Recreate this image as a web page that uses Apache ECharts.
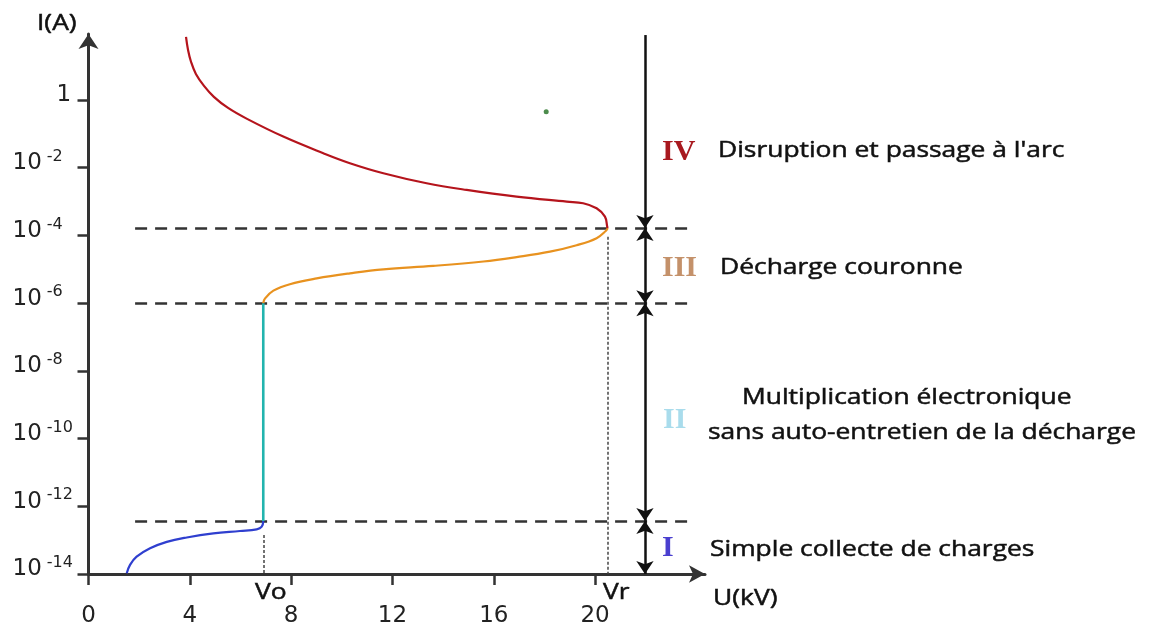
<!DOCTYPE html>
<html>
<head>
<meta charset="utf-8">
<script src="https://cdn.jsdelivr.net/npm/echarts@6/dist/echarts.min.js"></script>
<style>
html,body{margin:0;padding:0;background:#ffffff;}
#chart{width:1158px;height:625px;}
</style>
</head>
<body>
<div id="chart"></div>
<script>
// ---- data (U in kV, I in A) ----
const blueU   = [1.51, 1.64, 1.90, 2.43, 3.09, 3.88, 4.93, 5.98, 6.64, 6.84, 6.90];
const blueI   = [1.05e-14, 1.86e-14, 3.24e-14, 5.75e-14, 8.9e-14, 1.2e-13, 1.58e-13, 1.86e-13, 2.09e-13, 2.5e-13, 3.7e-13];
const tealU   = [6.90, 6.90];
const tealI   = [3.7e-13, 1.0e-6];
const orangeU = [6.90, 6.97, 7.30, 7.95, 9.01, 10.32, 11.64, 13.61, 15.59, 16.90, 18.22, 19.27, 20.06, 20.43, 20.50];
const orangeI = [1.0e-6, 1.38e-6, 2.34e-6, 3.63e-6, 5.37e-6, 7.59e-6, 1.0e-5, 1.26e-5, 1.7e-5, 2.29e-5, 3.31e-5, 5.13e-5, 8.32e-5, 1.38e-4, 1.66e-4];
const redU    = [20.50, 20.48, 20.39, 20.06, 19.53, 18.88, 16.90, 14.93, 13.35, 11.64, 10.32, 9.27, 7.69, 6.26, 5.51, 4.95, 4.56, 4.24, 4.05, 3.93, 3.85];
const redI    = [1.66e-4, 1.82e-4, 3.6e-4, 6.35e-4, 8.93e-4, 9.96e-4, 1.40e-3, 2.21e-3, 3.48e-3, 6.87e-3, 1.36e-2, 2.68e-2, 8.3e-2, 0.277, 0.583, 1.24, 2.61, 5.9, 13.3, 30.2, 73.1];
const dotU    = [18.07];
const dotI    = [0.447];
const levelI  = [1.66e-4, 1.0e-6, 3.7e-13, 1.0e-14];   // region boundaries (IV/III, III/II, II/I, axis)
const topI    = 83;                                   // top of region IV arrow
const Vo = 6.9, Vr = 20.5;
const xTicks  = [0, 4, 8, 12, 16, 20];
const yTickExp = [-14, -12, -10, -8, -6, -4, -2, 0];
const romans  = ['IV', 'III', 'II', 'I'];
const romanColors = ['#a8191f', '#c4916a', '#a9dcec', '#4a3fcf'];
const descIV  = "Disruption et passage à l'arc";
const descIII = 'Décharge couronne';
const descII  = ['Multiplication électronique', 'sans auto-entretien de la décharge'];
const descI   = 'Simple collecte de charges';

// ---- build ----
const L = v => Math.log10(v);
const pts = (U, I) => U.map((u, i) => [u, L(I[i])]);
const arrowX = 21.97, dashX0 = 1.84, dashX1 = 23.83;

const chart = echarts.init(document.getElementById('chart'), null, {renderer: 'canvas'});
const sansFont = '"Open Sans", sans-serif';
const txt = (text, x, y) => ({
  type: 'text', x: x, y: y, scaleX: 1.2, z: 50,
  style: {text: text, fontFamily: sansFont, fontSize: 22, fill: '#111111', stroke: '#111111', lineWidth: 0.5,
    align: 'left', verticalAlign: 'middle', textAlign: 'left', textVerticalAlign: 'middle'}
});
const roman = (text, x, y, color) => ({
  type: 'text', x: x, y: y, z: 50,
  style: {text: text, fontFamily: '"Liberation Serif", serif', fontWeight: 'bold', fontSize: 30, fill: color,
    align: 'left', verticalAlign: 'middle', textAlign: 'left', textVerticalAlign: 'middle'}
});

const option = {
  backgroundColor: '#ffffff',
  animation: false,
  grid: {left: 88.5, right: 453, top: 34, bottom: 51, containLabel: false, outerBoundsMode: 'none'},
  xAxis: {
    type: 'value', min: 0, max: 24.34,
    splitLine: {show: false},
    axisLine: {show: true, onZero: false, symbol: ['none', 'arrow'], symbolSize: [13, 16], lineStyle: {color: '#333', width: 3}},
    axisTick: {show: true, length: 11, customValues: xTicks, lineStyle: {color: '#333', width: 2.5}},
    axisLabel: {customValues: xTicks, margin: 31, fontFamily: 'DejaVu Sans', fontSize: 23, color: '#222'}
  },
  yAxis: {
    type: 'value', min: -14, max: 1.95,
    splitLine: {show: false},
    axisLine: {show: true, onZero: false, symbol: ['none', 'arrow'], symbolSize: [15, 15], lineStyle: {color: '#333', width: 3}},
    axisTick: {show: true, length: 11, customValues: yTickExp, lineStyle: {color: '#333', width: 2.5}},
    axisLabel: {
      customValues: yTickExp, margin: 76, align: 'left', padding: [0, 0, 12, 0],
      formatter: v => v === 0 ? '{one|1}' : '{b|10}{s|' + v + '}',
      rich: {
        one: {fontFamily: 'DejaVu Sans', fontSize: 23, color: '#222', verticalAlign: 'bottom', lineHeight: 26, padding: [0, 0, 0, 44]},
        b: {fontFamily: 'DejaVu Sans', fontSize: 23, color: '#222', verticalAlign: 'bottom', lineHeight: 26},
        s: {fontFamily: 'DejaVu Sans', fontSize: 16, color: '#222', verticalAlign: 'bottom', lineHeight: 18, padding: [0, 0, 10, 5]}
      }
    }
  },
  series: [
    {type: 'lines', coordinateSystem: 'cartesian2d', clip: false, z: 2, silent: true,
     lineStyle: {color: '#333', width: 2.5, type: [12, 8], opacity: 1},
     data: levelI.slice(0, 3).map(v => ({coords: [[dashX0, L(v)], [dashX1, L(v)]]}))},
    {type: 'lines', coordinateSystem: 'cartesian2d', clip: false, z: 2, silent: true,
     lineStyle: {color: '#444', width: 1.5, type: [3, 2], opacity: 1},
     data: [{coords: [[Vo, -12.85], [Vo, L(levelI[3])]]}, {coords: [[Vr, -4.04], [Vr, L(levelI[3])]]}]},
    {type: 'lines', coordinateSystem: 'cartesian2d', clip: false, z: 3, silent: true,
     symbol: ['none', 'arrow'], symbolSize: 13,
     lineStyle: {color: '#111', width: 2.5, opacity: 1},
     data: [{coords: [[arrowX, L(topI)], [arrowX, L(levelI[0])]]}]},
    {type: 'lines', coordinateSystem: 'cartesian2d', clip: false, z: 3, silent: true,
     symbol: ['arrow', 'arrow'], symbolSize: 13,
     lineStyle: {color: '#111', width: 2.5, opacity: 1},
     data: [0, 1, 2].map(i => ({coords: [[arrowX, L(levelI[i])], [arrowX, L(levelI[i + 1])]]}))},
    {type: 'line', data: pts(blueU, blueI), smooth: 0.4, showSymbol: false, z: 5,
     lineStyle: {color: '#2f3fcf', width: 2.2}},
    {type: 'line', data: pts(tealU, tealI), smooth: false, showSymbol: false, z: 5,
     lineStyle: {color: '#22b4ae', width: 2.6}},
    {type: 'line', data: pts(orangeU, orangeI), smooth: 0.4, showSymbol: false, z: 5,
     lineStyle: {color: '#e8921f', width: 2.2}},
    {type: 'line', data: pts(redU, redI), smooth: 0.4, showSymbol: false, z: 5,
     lineStyle: {color: '#b5141c', width: 2.2}},
    {type: 'scatter', data: pts(dotU, dotI), symbolSize: 5, z: 5,
     itemStyle: {color: '#1f6f1f'}}
  ],
  graphic: [
    txt('I(A)', 37, 24),
    txt('U(kV)', 713, 599),
    txt('Vo', 255, 593),
    txt('Vr', 603, 593),
    roman(romans[0], 662, 152, romanColors[0]),
    roman(romans[1], 662, 268, romanColors[1]),
    roman(romans[2], 663, 420, romanColors[2]),
    roman(romans[3], 662, 548, romanColors[3]),
    txt(descIV, 718, 151),
    txt(descIII, 720, 268),
    txt(descII[0], 742, 398),
    txt(descII[1], 708, 433),
    txt(descI, 710, 550)
  ]
};
chart.setOption(option);
</script>
</body>
</html>
